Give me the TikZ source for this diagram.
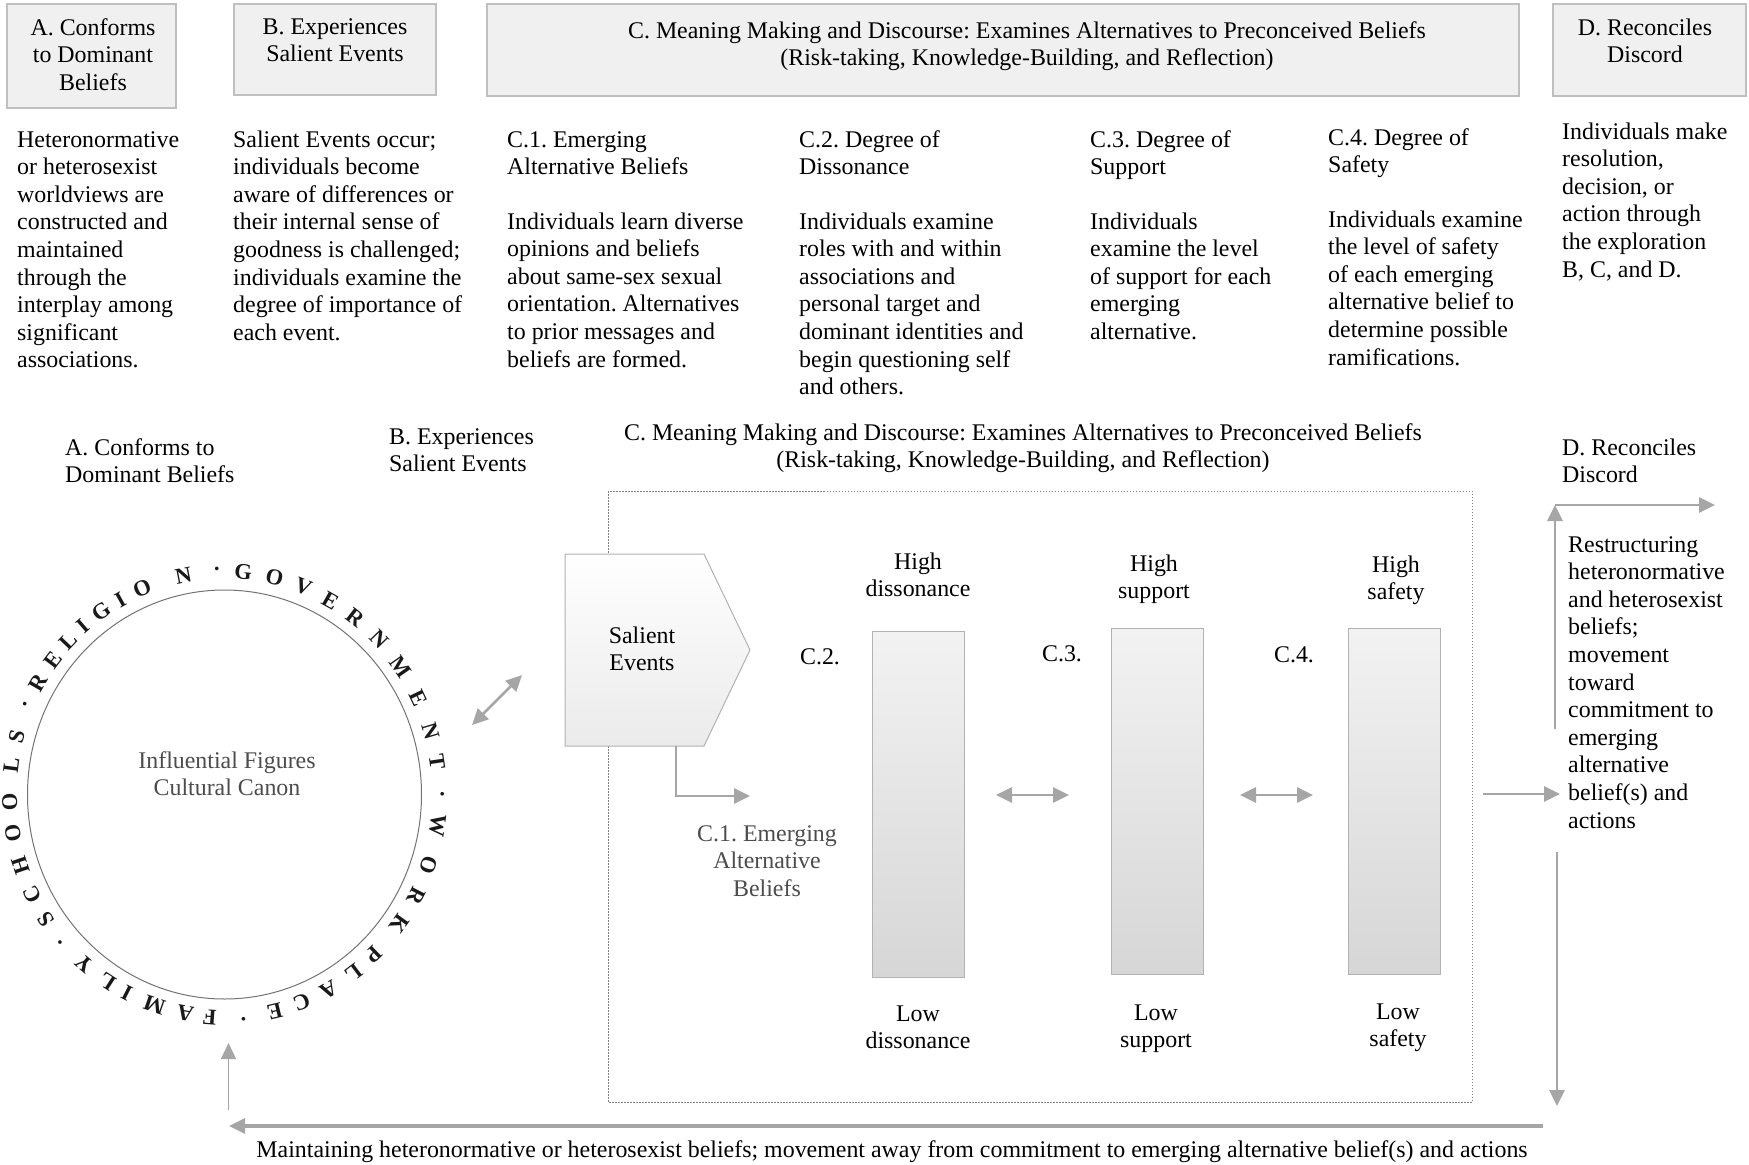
\documentclass[tikz,border=0pt]{standalone}
\usepackage{fontspec}
\setmainfont{Liberation Serif}
\usetikzlibrary{arrows.meta}
\frenchspacing
\tikzset{
  txt/.style={inner sep=0pt, font=\fontsize{23.9}{27.6}\selectfont, align=left, anchor=base west},
  ctxt/.style={txt, align=center, anchor=base},
  hbox/.style={draw=black!25, fill=black!6, line width=1.2pt, inner sep=0pt},
  bar/.style={draw=black!30, line width=1pt, top color=black!5, bottom color=black!16, minimum width=92pt, minimum height=346pt, inner sep=0pt},
  arr/.style={draw=black!35, line width=2.8pt, -{Triangle[length=16pt,width=15pt]}},
  darr/.style={arr, {Triangle[length=16pt,width=15pt]}-{Triangle[length=16pt,width=15pt]}},
  ring/.style={inner sep=0pt, font=\fontsize{22.5}{22.5}\selectfont\bfseries, text=black!90}
}
\begin{document}
\begin{tikzpicture}[x=1pt,y=-1pt]
  \useasboundingbox (0,0) rectangle (1749,1165);
  \node[hbox, minimum width=169pt, minimum height=104pt] (boxA) at (91.5,56) {};
  \node[hbox, minimum width=202pt, minimum height=91pt] (boxB) at (335,49.5) {};
  \node[hbox, minimum width=1032pt, minimum height=92pt] (boxC) at (1003,50) {};
  \node[hbox, minimum width=193pt, minimum height=92pt] (boxD) at (1649.5,50) {};
  \node[ctxt] (titA) at (93,90.2) {A. Conforms\\to Dominant\\Beliefs};
  \node[ctxt] (titB) at (335,61.6) {B. Experiences\\Salient Events};
  \node[ctxt] (titC) at (1027,65.6) {C. Meaning Making and Discourse: Examines Alternatives to Preconceived Beliefs\\(Risk-taking, Knowledge-Building, and Reflection)};
  \node[ctxt] (titD) at (1645,62.6) {D. Reconciles\\Discord};

  \node[txt] (txA) at (17,367.8) {Heteronormative\\or heterosexist\\worldviews are\\constructed and\\maintained\\through the\\interplay among\\significant\\associations.};
  \node[txt] (txB) at (233,340.2) {Salient Events occur;\\individuals become\\aware of differences or\\their internal sense of\\goodness is challenged;\\individuals examine the\\degree of importance of\\each event.};
  \node[txt] (hdC1) at (507,174.6) {C.1. Emerging\\Alternative Beliefs};
  \node[txt] (txC1) at (507,367) {Individuals learn diverse\\opinions and beliefs\\about same-sex sexual\\orientation. Alternatives\\to prior messages and\\beliefs are formed.};
  \node[txt] (hdC2) at (799,174.6) {C.2. Degree of\\Dissonance};
  \node[txt] (txC2) at (799,394.6) {Individuals examine\\roles with and within\\associations and\\personal target and\\dominant identities and\\begin questioning self\\and others.};
  \node[txt] (hdC3) at (1090,174.6) {C.3. Degree of\\Support};
  \node[txt] (txC3) at (1090,339.4) {Individuals\\examine the level\\of support for each\\emerging\\alternative.};
  \node[txt] (hdC4) at (1328,172.6) {C.4. Degree of\\Safety};
  \node[txt] (txC4) at (1328,365) {Individuals examine\\the level of safety\\of each emerging\\alternative belief to\\determine possible\\ramifications.};
  \node[txt] (txD) at (1562,277) {Individuals make\\resolution,\\decision, or\\action through\\the exploration\\B, C, and D.};

  \node[txt] (lowA) at (65,482.6) {A. Conforms to\\Dominant Beliefs};
  \node[txt] (lowB) at (389,471.6) {B. Experiences\\Salient Events};
  \node[ctxt] (lowC) at (1023,467.6) {C. Meaning Making and Discourse: Examines Alternatives to Preconceived Beliefs\\(Risk-taking, Knowledge-Building, and Reflection)};
  \node[txt] (lowD) at (1562,482.6) {D. Reconciles\\Discord};

  \draw[black!50, line width=1pt, dash pattern=on 1.5pt off 1.5pt] (608,491) rectangle (1472,1102);
  \draw[black!55, line width=1pt] (224.5,794.5) ellipse [x radius=197, y radius=204.5];
  \node[ctxt, text=black!70] (canon) at (227,795.6) {Influential Figures\\Cultural Canon};
  \foreach \ch/\ang [count=\i] in {S/-146, C/-153.5, H/-161.5, O/-170, O/-178, L/172.5, S/165, \textperiodcentered/156.5,
      R/150, E/143, L/136.5, I/131, G/125, I/119, O/112.5, N/101, \textperiodcentered/92,
      G/85, O/76.5, V/68.5, E/60.5, R/52.5, N/44, M/35, E/25.5, N/16.5, T/8.5, \textperiodcentered/0,
      W/-8, O/-18.5, R/-27, K/-35.5, P/-46, L/-53, A/-61, C/-69, E/-76.5, \textperiodcentered/-85,
      F/-94, A/-100.5, M/-109, I/-117, L/-123, Y/-130.5, \textperiodcentered/-139}
    \node[ring, rotate=\ang-90] (ring\i) at ({224.5+215*cos(\ang)},{794.5-223*sin(\ang)}) {\ch};

  \path[draw=black!30, line width=1pt, top color=white, bottom color=black!8] (565,554) -- (704,554) -- (750,650) -- (704,746) -- (565,746) -- cycle;
  \node[ctxt] (salient) at (642,670.6) {Salient\\Events};
  \node[ctxt, text=black!70] (emerg) at (767,896.2) {C.1. Emerging\\Alternative\\Beliefs};
  \node[bar] (bar1) at (918,804) {};
  \node[bar] (bar2) at (1157,801.5) {};
  \node[bar] (bar3) at (1394.5,801) {};
  \node[ctxt] (c2) at (820,664) {C.2.};
  \node[ctxt] (c3) at (1062,661) {C.3.};
  \node[ctxt] (c4) at (1294,662) {C.4.};
  \node[ctxt] (hi1) at (918,596.6) {High\\dissonance};
  \node[ctxt] (hi2) at (1154,598.6) {High\\support};
  \node[ctxt] (hi3) at (1396,599.6) {High\\safety};
  \node[ctxt] (lo1) at (918,1048.6) {Low\\dissonance};
  \node[ctxt] (lo2) at (1156,1047.6) {Low\\support};
  \node[ctxt] (lo3) at (1398,1046.6) {Low\\safety};

  \node[txt] (restr) at (1568,828) {Restructuring\\heteronormative\\and heterosexist\\beliefs;\\movement\\toward\\commitment to\\emerging\\alternative\\belief(s) and\\actions};
  \node[ctxt] (maint) at (892,1157) {Maintaining heteronormative or heterosexist beliefs; movement away from commitment to emerging alternative belief(s) and actions};

  \coordinate (ca1) at (472,725);
  \coordinate (ca2) at (522,675);
  \coordinate (s1) at (676,746);
  \coordinate (s2) at (750,796);
  \coordinate (b1) at (996,795);
  \coordinate (b2) at (1069,795);
  \coordinate (b3) at (1240,795);
  \coordinate (b4) at (1313,795);
  \coordinate (o1) at (1483,794);
  \coordinate (o2) at (1560,794);
  \coordinate (u0) at (1555,729);
  \coordinate (u1) at (1555,505);
  \coordinate (u2) at (1715,505);
  \coordinate (d0) at (1557,852);
  \coordinate (d1) at (1557,1106);
  \coordinate (m0) at (1543,1126);
  \coordinate (m1) at (229,1126);
  \coordinate (f0) at (228.5,1110);
  \coordinate (f1) at (228.5,1043);
  \draw[darr] (ca1) -- (ca2);
  \draw[arr] (s1) |- (s2);
  \draw[darr] (b1) -- (b2);
  \draw[darr] (b3) -- (b4);
  \draw[arr] (o1) -- (o2);
  \draw[arr] (u0) -- (u1);
  \draw[arr] (u1) -- (u2);
  \draw[arr] (d0) -- (d1);
  \draw[arr, line width=3.2pt] (m0) -- (m1);
  \draw[arr, line width=1.5pt] (f0) -- (f1);
\end{tikzpicture}
\end{document}
